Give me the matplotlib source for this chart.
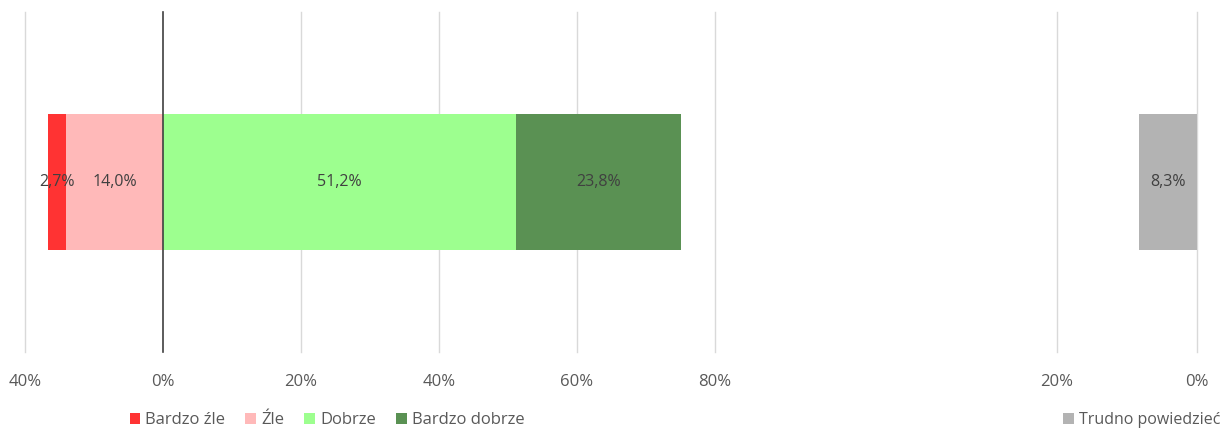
import matplotlib
matplotlib.use("Agg")
import matplotlib.pyplot as plt
from matplotlib.patches import Patch

categories = ["Bardzo źle", "Źle", "Dobrze", "Bardzo dobrze"]
values = [2.7, 14.0, 51.2, 23.8]
colors = ["#ff3333", "#ffb9b9", "#9dff8f", "#5a9153"]
other_label = "Trudno powiedzieć"
other_value = 8.3
other_color = "#b3b3b3"
main_ticks = [-20, 0, 20, 40, 60, 80]
main_ticklabels = ["40%", "0%", "20%", "40%", "60%", "80%"]
right_ticks = [20, 0]
right_ticklabels = ["20%", "0%"]

plt.rcParams['font.family'] = ['Open Sans', 'DejaVu Sans']
W, H = 1221, 428
fig = plt.figure(figsize=(W / 100, H / 100), dpi=100)

bottom = 1 - 352 / H
top = 1 - 12 / H
ax = fig.add_axes([25 / W, bottom, (715 - 25) / W, top - bottom])
ax2 = fig.add_axes([1057 / W, bottom, (1197 - 1057) / W, top - bottom])

txtc = "#404040"
tickc = "#595959"
gridc = "#d9d9d9"
lblsize = 11.5

neg_left = -(values[0] + values[1])
ax.barh(0.5, values[0], left=neg_left, height=0.4, color=colors[0], zorder=3)
ax.barh(0.5, values[1], left=-values[1], height=0.4, color=colors[1], zorder=3)
ax.barh(0.5, values[2], left=0, height=0.4, color=colors[2], zorder=3)
ax.barh(0.5, values[3], left=values[2], height=0.4, color=colors[3], zorder=3)

def fmt(v):
    return f"{v:.1f}%".replace(".", ",")

ax.text(neg_left + values[0] / 2, 0.5, fmt(values[0]), ha="center", va="center", color=txtc, fontsize=lblsize, zorder=5)
ax.text(-values[1] / 2, 0.5, fmt(values[1]), ha="center", va="center", color=txtc, fontsize=lblsize, zorder=5)
ax.text(values[2] / 2, 0.5, fmt(values[2]), ha="center", va="center", color=txtc, fontsize=lblsize, zorder=5)
ax.text(values[2] + values[3] / 2, 0.5, fmt(values[3]), ha="center", va="center", color=txtc, fontsize=lblsize, zorder=5)

ax.set_xlim(-20, 80)
ax.set_ylim(0, 1)
ax.set_xticks(main_ticks)
ax.set_xticklabels(main_ticklabels)
ax.set_yticks([])
for t in main_ticks:
    if t == 0:
        ax.axvline(0, color="#404040", lw=1.2, zorder=4, clip_on=False)
    else:
        ax.axvline(t, color=gridc, lw=1, zorder=1, clip_on=False)
for s in ax.spines.values():
    s.set_visible(False)
ax.tick_params(axis="x", length=0, pad=16, labelsize=12, labelcolor=tickc)

ax2.barh(0.5, other_value, left=0, height=0.4, color=other_color, zorder=3)
ax2.text(other_value / 2, 0.5, fmt(other_value), ha="center", va="center", color=txtc, fontsize=lblsize, zorder=5)
ax2.set_xlim(20, 0)
ax2.set_ylim(0, 1)
ax2.set_xticks(right_ticks)
ax2.set_xticklabels(right_ticklabels)
ax2.set_yticks([])
for t in right_ticks:
    ax2.axvline(t, color=gridc, lw=1, zorder=1, clip_on=False)
for s in ax2.spines.values():
    s.set_visible(False)
ax2.tick_params(axis="x", length=0, pad=16, labelsize=12, labelcolor=tickc)

handles = [Patch(facecolor=c, edgecolor="none") for c in colors]
fig.legend(handles, categories, loc="center", bbox_to_anchor=(327 / W, 1 - 420 / H),
           ncol=4, frameon=False, fontsize=12, handlelength=0.65, handleheight=0.65,
           handletextpad=0.3, columnspacing=1.2, labelcolor=tickc)
fig.legend([Patch(facecolor=other_color, edgecolor="none")], [other_label],
           loc="center right", bbox_to_anchor=(1 - 1 / W, 1 - 420 / H), frameon=False,
           fontsize=11.5, handlelength=0.65, handleheight=0.65, handletextpad=0.3,
           labelcolor=tickc, borderaxespad=0, borderpad=0)

fig.savefig("out.png", dpi=100)
